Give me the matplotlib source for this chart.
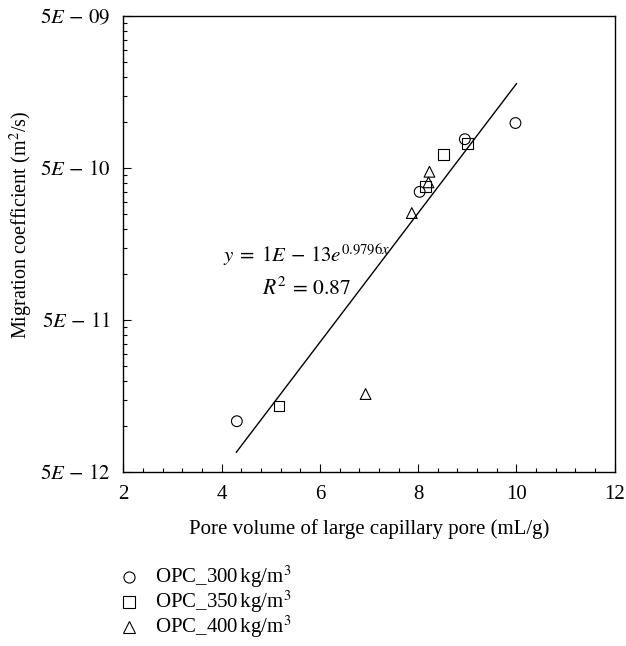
import numpy as np
import matplotlib
matplotlib.use('Agg')
import matplotlib.pyplot as plt
from matplotlib.lines import Line2D
from matplotlib.ticker import FixedLocator, NullFormatter

plt.rcParams['font.family'] = ['Liberation Serif', 'DejaVu Serif']
plt.rcParams['mathtext.fontset'] = 'stix'

# data
x300 = [4.31, 8.03, 8.95, 9.98]
y300 = [1.08e-11, 3.49e-10, 7.75e-10, 9.9e-10]
x350 = [5.17, 8.15, 8.51, 9.01]
y350 = [1.36e-11, 3.77e-10, 6.18e-10, 7.23e-10]
x400 = [6.93, 7.87, 8.21, 8.23]
y400 = [1.63e-11, 2.53e-10, 4.03e-10, 4.73e-10]

fit_a, fit_b = 1e-13, 0.9796
fit_range = [4.3, 10.0]

yticks = [5e-12, 5e-11, 5e-10, 5e-9]
ytick_labels = [r'$5E\,-\,12$', r'$5E\,-\,11$', r'$5E\,-\,10$', r'$5E\,-\,09$']
series_labels = [r'OPC_300$\,$kg/m$^3$', r'OPC_350$\,$kg/m$^3$', r'OPC_400$\,$kg/m$^3$']
series_markers = ['o', 's', '^']

fig = plt.figure(figsize=(6.26, 6.46), dpi=100)
ax = fig.add_axes([0.197, 0.2693, 0.785, 0.7057])

mk = dict(facecolor='none', edgecolor='black', linewidths=0.8, s=60, zorder=3)
ax.scatter(x300, y300, marker='o', **mk)
ax.scatter(x350, y350, marker='s', **mk)
ax.scatter(x400, y400, marker='^', **mk)

xf = np.linspace(fit_range[0], fit_range[1], 100)
ax.plot(xf, fit_a * np.exp(fit_b * xf), color='black', lw=1.0)

ax.set_yscale('log')
ax.set_xlim(2, 12)
ax.set_ylim(5e-12, 5e-9)
ax.set_xticks(np.arange(2, 13, 2))
ax.xaxis.set_minor_locator(FixedLocator(np.arange(2, 12.01, 0.4)))
ax.set_yticks(yticks)
ax.set_yticklabels(ytick_labels)
minors = [b * k for b in [5e-12, 5e-11, 5e-10] for k in range(2, 10)]
ax.yaxis.set_minor_locator(FixedLocator(minors))
ax.yaxis.set_minor_formatter(NullFormatter())
ax.tick_params(which='both', direction='in', top=False, right=False, labelsize=15, width=0.8)
ax.tick_params(which='major', length=6, pad=9)
ax.tick_params(which='minor', length=3)
for s in ax.spines.values():
    s.set_linewidth(1.0)

ax.set_xlabel('Pore volume of large capillary pore (mL/g)', fontsize=15, labelpad=11)
ax.set_ylabel(r'Migration coefficient (m$^2$/s)', fontsize=14.5)
ax.yaxis.set_label_coords(-0.18, 0.542)

ax.text(5.73, 1.34e-10, r'$y\;=\;1E\,-\,13e^{0.9796x}$', fontsize=15, ha='center', va='center')
ax.text(5.72, 8.1e-11, r'$R^2\,=\,0.87$', fontsize=15.5, ha='center', va='center')

# legend below the plot, drawn by hand to keep the rows tight
for i, (lab, m) in enumerate(zip(series_labels, series_markers)):
    yy = 0.1068 - i * 0.0387
    fig.add_artist(Line2D([0.206], [yy], marker=m, markersize=8, markerfacecolor='none',
                          markeredgecolor='black', markeredgewidth=0.8, linestyle='none',
                          transform=fig.transFigure))
    fig.text(0.248, yy, lab, fontsize=15, ha='left', va='center')

fig.savefig('out.png', dpi=100)
